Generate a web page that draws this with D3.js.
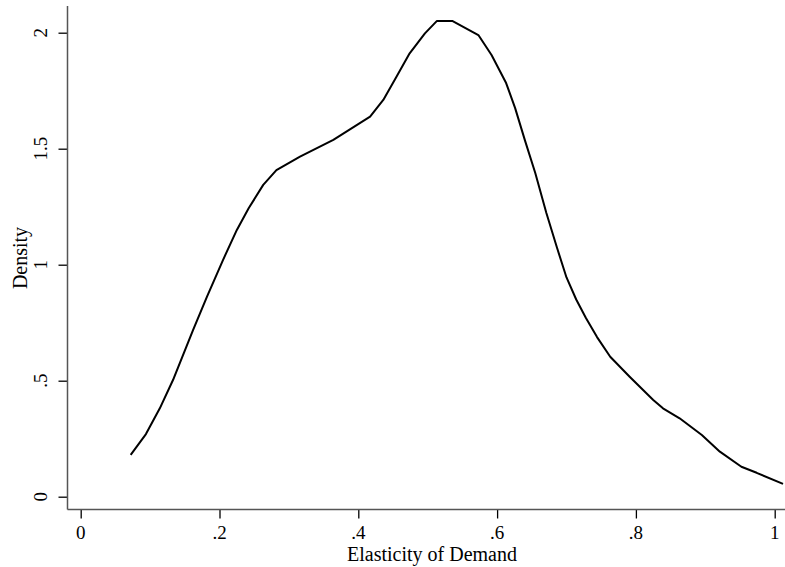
<!DOCTYPE html>
<html>
<head>
<meta charset="utf-8">
<script src="https://cdn.jsdelivr.net/npm/d3@7.9.0/dist/d3.min.js"></script>
<style>
  html, body { margin: 0; padding: 0; background: #fff; }
  svg text { font-family: "Liberation Serif", "Times New Roman", serif; fill: #000; }
</style>
</head>
<body>
<div id="chart"></div>
<script>
// kernel density estimate
const elasticity = [0.072, 0.094, 0.114, 0.133, 0.162, 0.182, 0.205, 0.225, 0.242, 0.263,
  0.282, 0.316, 0.364, 0.417, 0.436, 0.455, 0.474, 0.496, 0.513, 0.536,
  0.573, 0.592, 0.613, 0.626, 0.640, 0.655, 0.671, 0.686, 0.700, 0.714,
  0.728, 0.744, 0.763, 0.791, 0.825, 0.839, 0.863, 0.895, 0.921, 0.952,
  0.974, 1.012];
const density = [0.180, 0.270, 0.381, 0.503, 0.719, 0.862, 1.020, 1.150, 1.243, 1.344,
  1.408, 1.466, 1.538, 1.638, 1.710, 1.810, 1.911, 1.997, 2.050, 2.050,
  1.990, 1.904, 1.783, 1.675, 1.537, 1.395, 1.223, 1.076, 0.945, 0.850,
  0.770, 0.688, 0.603, 0.517, 0.417, 0.381, 0.338, 0.266, 0.194, 0.129,
  0.103, 0.055];
const xTicks = [0, 0.2, 0.4, 0.6, 0.8, 1];
const yTicks = [0, 0.5, 1, 1.5, 2];
const xTitle = 'Elasticity of Demand';
const yTitle = 'Density';

const width = 785;
const height = 567;

const svg = d3.select('#chart')
  .append('svg')
  .attr('width', width)
  .attr('height', height);

// scales fitted to the tick positions in the picture
const x = d3.scaleLinear().domain([0, 1]).range([80.7, 774.7]);
const y = d3.scaleLinear().domain([0, 2]).range([496.7, 32.7]);

const axisLeft = 67.5;
const axisBottom = 509.5;

const fmt = d => d === 0 ? '0' : d === 1 ? '1' : String(d).replace(/^0/, '');

// y axis
const gy = svg.append('g')
  .attr('transform', `translate(${axisLeft},0)`)
  .call(d3.axisLeft(y).tickValues(yTicks).tickSize(9).tickPadding(0).tickFormat(''));
gy.select('.domain').remove();
gy.selectAll('.tick line').attr('stroke', '#000').attr('stroke-width', 1.3);
svg.append('line')
  .attr('x1', axisLeft).attr('x2', axisLeft)
  .attr('y1', 6).attr('y2', axisBottom)
  .attr('stroke', '#555').attr('stroke-width', 1.5);

svg.append('g').selectAll('text')
  .data(yTicks)
  .join('text')
  .attr('transform', d => `translate(47,${y(d)}) rotate(-90)`)
  .attr('text-anchor', 'middle')
  .attr('font-size', 19)
  .text(fmt);

// x axis
const gx = svg.append('g')
  .attr('transform', `translate(0,${axisBottom})`)
  .call(d3.axisBottom(x).tickValues(xTicks).tickSize(9).tickPadding(0).tickFormat(''));
gx.select('.domain').remove();
gx.selectAll('.tick line').attr('stroke', '#000').attr('stroke-width', 1.3);
svg.append('line')
  .attr('x1', axisLeft).attr('x2', width)
  .attr('y1', axisBottom).attr('y2', axisBottom)
  .attr('stroke', '#555').attr('stroke-width', 1.5);

svg.append('g').selectAll('text')
  .data(xTicks)
  .join('text')
  .attr('x', d => x(d))
  .attr('y', 539)
  .attr('text-anchor', 'middle')
  .attr('font-size', 19)
  .text(fmt);

svg.append('text')
  .attr('x', 432)
  .attr('y', 561)
  .attr('text-anchor', 'middle')
  .attr('font-size', 20)
  .text(xTitle);

svg.append('text')
  .attr('transform', 'translate(27,258) rotate(-90)')
  .attr('text-anchor', 'middle')
  .attr('font-size', 20)
  .text(yTitle);

// the density line
const points = elasticity.map((e, i) => ({ e, d: density[i] }));
svg.append('path')
  .datum(points)
  .attr('fill', 'none')
  .attr('stroke', '#000')
  .attr('stroke-width', 2)
  .attr('stroke-linejoin', 'round')
  .attr('d', d3.line().x(p => x(p.e)).y(p => y(p.d)));
</script>
</body>
</html>
